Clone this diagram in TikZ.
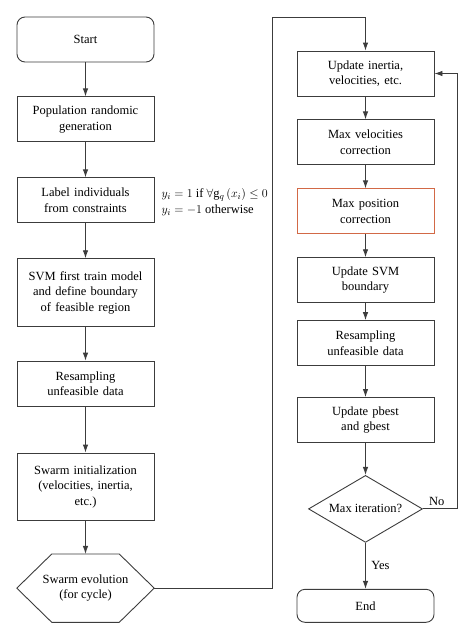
\documentclass[tikz,border=0pt]{standalone}
\usepackage{fontspec}
\setmainfont{Liberation Serif}
\usetikzlibrary{
  shapes.geometric,
  arrows.meta,
  positioning,
}
\definecolor{linegray}{RGB}{60,60,60}
\definecolor{orangeline}{RGB}{210,105,70}
\tikzset{
  proc/.style={
    rectangle,
    minimum width=137pt,
    minimum height=45pt,
    text width=130pt,
    align=center,
    inner sep=2pt,
    draw=linegray,
    line width=0.9pt,
    font=\fontsize{12.5}{15.5}\selectfont
  },
  tall/.style={
    minimum height=67.5pt
  },
  term/.style={
    proc,
    rounded corners=8pt
  },
  hexa/.style={
    rectangle,
    minimum width=137pt,
    minimum height=68pt,
    inner sep=1pt,
    align=center,
    font=\fontsize{12.5}{15.5}\selectfont
  },
  outline/.style={
    draw=linegray,
    line width=0.9pt,
    line join=miter
  },
  decision/.style={
    diamond,
    aspect=1.7,
    minimum width=114pt,
    minimum height=67pt,
    inner sep=0pt,
    draw=linegray,
    line width=0.9pt,
    font=\fontsize{12.5}{15.5}\selectfont
  },
  arrow/.style={
    draw=linegray,
    line width=0.9pt,
    -{Latex[length=8pt,width=5.5pt]},
  },
  tag/.style={
    font=\fontsize{12.5}{15.5}\selectfont
  },
}

\begin{document}
\begin{tikzpicture}
  \useasboundingbox (0,0) rectangle (474pt,-635pt);

  % Left column
  \node (start) [term] at (85.5pt,-39.5pt) {Start};
  \node (pop) [proc, below=34pt of start] {Population randomic\\generation};
  \node (label) [proc, below=35pt of pop] {Label individuals\\from constraints};
  \node (svm) [proc, tall, below=35pt of label] {SVM first train model\\and define boundary\\of feasible region};
  \node (resamp) [proc, below=34pt of svm] {Resampling\\unfeasible data};
  \node (init) [proc, tall, below=46pt of resamp] {Swarm initialization\\(velocities, inertia,\\etc.)};
  \node (evol) [hexa, below=33pt of init] {Swarm evolution\\(for cycle)};
  \draw [outline] (evol.west) -- ([xshift=35pt]evol.north west)
    -- ([xshift=-35pt]evol.north east) -- (evol.east)
    -- ([xshift=-35pt]evol.south east) -- ([xshift=35pt]evol.south west) -- cycle;

  % Constraint labelling rule
  \node (rule) [tag, right=7pt of label, align=left, inner sep=0pt, yshift=-2pt]
    {$y_i = 1$ if $\forall \mathrm{g}_q\,(x_i) \leq 0$\\$y_i = -1$ otherwise};

  % Right column
  \node (upd) [proc] at (365.5pt,-73.5pt) {Update inertia,\\velocities, etc.};
  \node (maxvel) [proc, below=23pt of upd] {Max velocities\\correction};
  \node (maxpos) [proc, draw=orangeline, below=23pt of maxvel] {Max position\\correction};
  \node (updsvm) [proc, below=23pt of maxpos] {Update SVM\\boundary};
  \node (resamp2) [proc, below=17pt of updsvm] {Resampling\\unfeasible data};
  \node (best) [proc, below=31pt of resamp2] {Update pbest\\and gbest};
  \node (maxit) [decision, below=32pt of best] {Max iteration?};
  \node (finish) [term, minimum height=33pt, below=46pt of maxit] {End};

  \coordinate (loop) at (272pt,-17pt);

  % Arrows
  \draw [arrow] (start) -- (pop);
  \draw [arrow] (pop) -- (label);
  \draw [arrow] (label) -- (svm);
  \draw [arrow] (svm) -- (resamp);
  \draw [arrow] (resamp) -- (init);
  \draw [arrow] (init) -- (evol);
  \draw [arrow] (evol.east) -| (loop) -| (upd.north);
  \draw [arrow] (upd) -- (maxvel);
  \draw [arrow] (maxvel) -- (maxpos);
  \draw [arrow] (maxpos) -- (updsvm);
  \draw [arrow] (updsvm) -- (resamp2);
  \draw [arrow] (resamp2) -- (best);
  \draw [arrow] (best) -- (maxit);
  \draw [arrow] (maxit) -- node[tag, right=2pt] {Yes} (finish);
  \draw [arrow] (maxit.east) -| node[tag, pos=0.2, above] {No} ([xshift=23pt]upd.east) -- (upd.east);

\end{tikzpicture}
\end{document}
